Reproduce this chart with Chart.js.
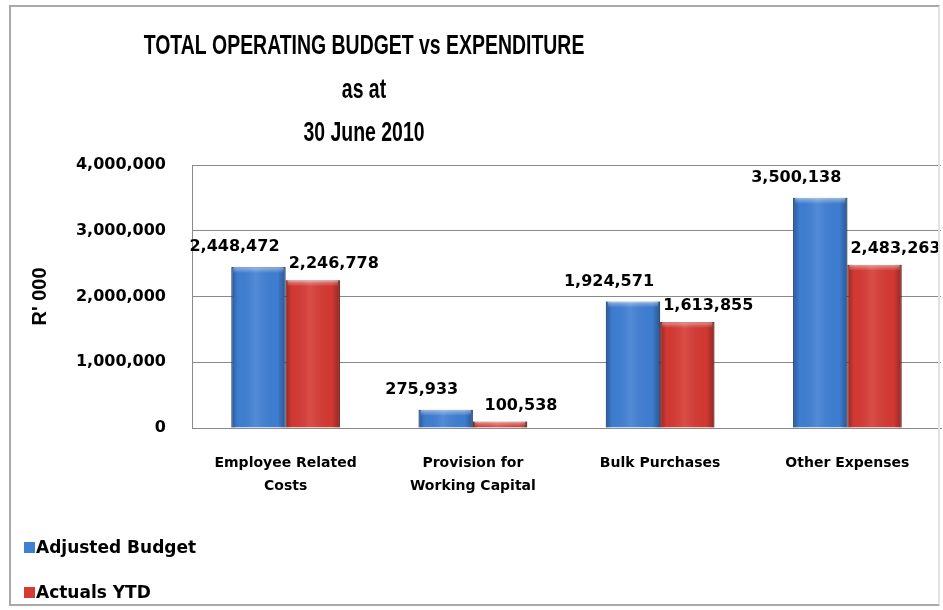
<!DOCTYPE html>
<html>
<head>
<meta charset="utf-8">
<title>Total Operating Budget vs Expenditure</title>
<script src="https://cdn.jsdelivr.net/npm/chart.js@4.4.0/dist/chart.umd.min.js"></script>
<style>
  html, body { margin: 0; padding: 0; background: #fff; overflow: hidden; }
  #wrap { position: relative; width: 943px; height: 610px; }
  #frame { position: absolute; left: 9px; top: 5px; width: 931px; height: 601px; border: 2px solid #a9a9a9; border-right-color: #e4e4e4; box-sizing: border-box; pointer-events: none; }
  #legend { position: absolute; left: 24px; top: 536px; font: bold 17px "DejaVu Sans", sans-serif; color: #000; }
  #legend div { height: 22px; line-height: 22px; margin-bottom: 23px; display: flex; align-items: center; }
  #legend span.box { display: inline-block; width: 11px; height: 11px; margin-right: 1px; }
</style>
</head>
<body>
<div id="wrap">
  <canvas id="myChart" width="943" height="610"></canvas>
  <div id="frame"></div>
  <div id="legend"></div>
</div>
<script>
// categories and series values
const categories = [['Employee Related', 'Costs'], ['Provision for', 'Working Capital'], 'Bulk Purchases', 'Other Expenses'];
const adjustedBudget = [2448472, 275933, 1924571, 3500138];
const actualsYTD = [2246778, 100538, 1613855, 2483263];
const titleLines = ['TOTAL OPERATING BUDGET vs EXPENDITURE', 'as at', '30 June 2010'];
const yMax = 4000000;
const yStep = 1000000;

const fmt = v => v.toLocaleString('en-US');

// three-line heading in a squeezed bold face, sitting left of centre
const titleBlock = {
    id: 'titleBlock',
    afterDraw(chart) {
        const ctx = chart.ctx;
        ctx.save();
        ctx.font = 'bold 27px "Liberation Sans", Arial, sans-serif';
        ctx.fillStyle = '#000';
        ctx.textAlign = 'center';
        ctx.textBaseline = 'middle';
        ctx.translate(364, 0);
        ctx.scale(0.72, 1);
        titleLines.forEach((t, k) => ctx.fillText(t, 0, 47 + k * 43.5));
        ctx.restore();
    }
};

// shading on each column so it reads like the 3D bevelled bars, then value labels
const barDecor = {
    id: 'barDecor',
    afterDatasetsDraw(chart) {
        const ctx = chart.ctx;
        chart.data.datasets.forEach((ds, i) => {
            const meta = chart.getDatasetMeta(i);
            meta.data.forEach((bar, j) => {
                const left = bar.x - bar.width / 2;
                const right = bar.x + bar.width / 2;
                const top = bar.y;
                const bottom = bar.base;
                const h = bottom - top;
                ctx.save();
                const g = ctx.createLinearGradient(left, 0, right, 0);
                g.addColorStop(0, 'rgba(0,0,0,0.30)');
                g.addColorStop(0.12, 'rgba(0,0,0,0.02)');
                g.addColorStop(0.45, 'rgba(255,255,255,0.10)');
                g.addColorStop(0.85, 'rgba(0,0,0,0.02)');
                g.addColorStop(1, 'rgba(0,0,0,0.32)');
                ctx.fillStyle = g;
                ctx.fillRect(left, top, right - left, h);
                const cap = Math.min(6, h);
                const v = ctx.createLinearGradient(0, top, 0, top + cap);
                v.addColorStop(0, 'rgba(255,255,255,0.45)');
                v.addColorStop(1, 'rgba(255,255,255,0)');
                ctx.fillStyle = v;
                ctx.fillRect(left + 2, top, right - left - 4, cap);
                ctx.restore();

                // value label
                const dx = i === 0 ? -24 : 21;
                const dy = i === 0 ? 20 : 16;
                ctx.save();
                ctx.font = 'bold 16px "DejaVu Sans", sans-serif';
                ctx.fillStyle = '#000';
                ctx.textAlign = 'center';
                ctx.textBaseline = 'middle';
                ctx.fillText(fmt(ds.data[j]), bar.x + dx, top - dy);
                ctx.restore();
            });
        });
    }
};

const ctx = document.getElementById('myChart').getContext('2d');
const myChart = new Chart(ctx, {
    type: 'bar',
    data: {
        labels: categories,
        datasets: [{
            label: 'Adjusted Budget',
            data: adjustedBudget,
            backgroundColor: '#3f7fd4',
            borderColor: '#2c5fa6',
            borderWidth: 1,
            categoryPercentage: 0.58,
            barPercentage: 1.0
        }, {
            label: 'Actuals YTD',
            data: actualsYTD,
            backgroundColor: '#d63a33',
            borderColor: '#a52924',
            borderWidth: 1,
            categoryPercentage: 0.58,
            barPercentage: 1.0
        }]
    },
    options: {
        responsive: false,
        animation: false,
        layout: { padding: { top: 165, left: 10, right: 2, bottom: 92 } },
        plugins: {
            legend: { display: false },
            tooltip: { enabled: false },
            title: { display: false }
        },
        scales: {
            x: {
                grid: { display: false, drawTicks: false },
                border: { display: true, color: '#8a8a8a', width: 1 },
                ticks: {
                    color: '#000',
                    padding: 23,
                    maxRotation: 0,
                    autoSkip: false,
                    font: { family: '"DejaVu Sans", sans-serif', size: 14, weight: 'bold', lineHeight: 1.7 }
                },
                afterFit(scale) { scale.height = 90; }
            },
            y: {
                min: 0,
                max: yMax,
                grid: { color: '#8a8a8a', lineWidth: 1, drawTicks: false },
                border: { display: true, color: '#8a8a8a', width: 1 },
                ticks: {
                    stepSize: yStep,
                    color: '#000',
                    padding: 26,
                    font: { family: '"DejaVu Sans", sans-serif', size: 16, weight: 'bold' },
                    callback: v => fmt(v)
                },
                title: {
                    display: true,
                    text: "R' 000",
                    color: '#000',
                    font: { family: '"Liberation Sans", Arial, sans-serif', size: 20, weight: 'bold', lineHeight: 1.2 },
                    padding: { top: 18, bottom: 0 }
                },
                afterFit(scale) { scale.width = 182; }
            }
        }
    },
    plugins: [titleBlock, barDecor]
});

// legend stacked under the chart, built from the datasets
const legendEl = document.getElementById('legend');
myChart.data.datasets.forEach(ds => {
    const row = document.createElement('div');
    const box = document.createElement('span');
    box.className = 'box';
    box.style.background = ds.backgroundColor;
    row.appendChild(box);
    row.appendChild(document.createTextNode(ds.label));
    legendEl.appendChild(row);
});
</script>
</body>
</html>
